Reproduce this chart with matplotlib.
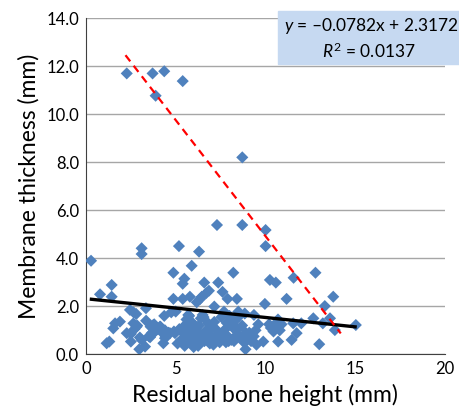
import numpy as np
import matplotlib
matplotlib.use("Agg")
import matplotlib.pyplot as plt
from matplotlib.patches import Rectangle

# residual bone height (mm) vs membrane thickness (mm)
bone_height = [
    2.27, 3.71, 4.36, 5.39, 3.88, 8.71, 7.30, 8.71, 10.01, 10.01,
    5.18, 3.10, 3.10, 6.30, 0.28, 5.89, 4.87, 8.21, 12.79, 11.57,
    5.48, 5.39, 7.37, 6.59, 10.25, 10.58, 1.43, 0.78, 1.43, 13.78,
    7.61, 6.45, 6.70, 6.85, 6.35, 5.79, 4.87, 5.39, 7.89, 8.41,
    11.18, 9.97, 13.31, 6.17, 3.34, 2.45, 2.65, 2.80, 5.00, 5.70,
    7.15, 6.50, 7.69, 8.49, 8.85, 9.36, 12.67, 13.60, 13.20, 13.87,
    15.04, 12.00, 11.55, 11.74, 11.46, 13.00, 10.71, 9.88, 8.89, 2.97,
    3.29, 1.15, 1.30, 1.52, 1.62, 1.89, 2.27, 2.50, 2.82, 2.64,
    3.10, 3.57, 3.66, 3.75, 4.12, 4.31, 4.40, 4.36, 4.68, 4.96,
    5.10, 5.30, 5.40, 5.50, 5.60, 5.20, 5.50, 5.70,
    5.80, 5.90, 5.95, 5.75, 6.00, 6.05, 5.85, 5.65,
    6.10, 6.20, 6.30, 6.35, 6.40, 6.25, 6.45, 6.15,
    6.60, 6.70, 6.80, 6.90, 6.95, 6.55, 6.75, 7.00,
    7.10, 7.20, 7.30, 7.40, 7.45, 7.15, 7.35,
    7.60, 7.70, 7.80, 7.85, 7.90, 7.55, 7.95,
    8.10, 8.20, 8.30, 8.40, 8.00, 8.25, 8.45,
    8.60, 8.70, 8.80, 8.90, 8.55, 9.00,
    9.10, 9.20, 9.35, 9.50, 9.60, 9.45,
    10.30, 10.45, 10.60, 10.80, 10.90, 10.20, 10.70,
    2.50, 2.70, 2.85, 3.00, 3.35, 3.60, 3.80, 4.00, 4.15, 4.25,
    4.45, 4.60, 4.40, 3.85, 4.75, 4.90, 3.50,
]
membrane = [
    11.71, 11.71, 11.80, 11.39, 10.78, 8.21, 5.39, 5.39, 5.18, 4.51,
    4.51, 4.42, 4.18, 4.28, 3.90, 3.69, 3.40, 3.40, 3.40, 3.19,
    3.15, 2.94, 2.99, 2.99, 3.10, 2.99, 2.89, 2.50, 2.40, 2.40,
    2.60, 2.40, 2.55, 2.65, 2.30, 2.40, 2.31, 2.31, 2.31, 2.31,
    2.31, 2.10, 2.01, 2.17, 1.92, 1.85, 1.75, 1.68, 1.78, 1.64,
    1.99, 1.64, 1.78, 1.78, 1.70, 1.64, 1.50, 1.50, 1.29, 1.01,
    1.22, 1.29, 1.29, 0.88, 0.60, 0.42, 0.53, 0.53, 0.21, 0.21,
    0.32, 0.46, 0.53, 1.08, 1.29, 1.36, 0.88, 0.53, 1.15, 1.29,
    0.60, 0.71, 0.88, 1.22, 1.15, 0.46, 0.67, 1.60, 0.88, 0.88,
    0.45, 0.60, 0.90, 1.20, 1.45, 1.05, 0.35, 0.75,
    0.50, 1.00, 1.30, 1.60, 0.30, 0.70, 0.85, 1.10,
    0.45, 0.90, 1.20, 0.60, 1.50, 0.35, 0.80, 1.10,
    0.55, 1.00, 1.30, 0.45, 0.80, 1.55, 0.70, 1.15,
    0.40, 0.65, 1.00, 0.80, 0.50, 1.35, 0.60,
    0.70, 1.00, 0.50, 1.30, 0.75, 1.55, 0.55,
    0.60, 1.10, 1.40, 0.80, 1.60, 0.55, 1.05,
    0.70, 1.20, 0.50, 0.90, 1.60, 0.60,
    0.90, 0.55, 0.75, 0.40, 1.25, 1.00,
    1.10, 0.95, 1.30, 1.00, 1.25, 1.25, 1.45,
    0.85, 1.05, 1.20, 0.70, 1.40, 1.15, 1.25, 1.05, 1.15, 0.90,
    0.75, 0.90, 1.00, 0.95, 1.75, 0.95, 0.75,
]

# linear trend (Excel) and hand-drawn red guide line
slope, intercept = -0.0782, 2.3172
trend_x = [0.3, 15.0]
guide_x = [2.2, 14.2]
guide_y = [12.47, 0.87]

x_ticks = [0, 5, 10, 15, 20]
y_ticks = [0, 2, 4, 6, 8, 10, 12, 14]

plt.rcParams['font.family'] = ['Lato', 'DejaVu Sans']
plt.rcParams['mathtext.fontset'] = 'custom'
plt.rcParams['mathtext.rm'] = 'Lato'
plt.rcParams['mathtext.it'] = 'Lato:italic'

fig = plt.figure(figsize=(4.6, 4.11), dpi=100)
ax = fig.add_axes([0.187, 0.138, 0.780, 0.817])

ax.scatter(bone_height, membrane, marker='D', s=38, color='#4f81bd',
           edgecolors='none', zorder=3)
tx = np.array(trend_x)
ax.plot(tx, slope * tx + intercept, color='black', lw=2.4, zorder=4)
ax.plot(guide_x, guide_y, color='red', lw=1.6, ls=(0, (3.5, 2.5)), zorder=5)

ax.set_xlim(0, 20)
ax.set_ylim(0, 14)
ax.set_xticks(x_ticks)
ax.set_yticks(y_ticks)
ax.set_yticklabels([f"{v:.1f}" for v in y_ticks])
ax.tick_params(length=0, labelsize=12, pad=5)
ax.yaxis.grid(True, color='#a6a6a6', lw=1)
ax.set_axisbelow(True)
for s in ['top', 'right']:
    ax.spines[s].set_visible(False)
ax.spines['left'].set_color('#404040')
ax.spines['bottom'].set_color('#404040')

ax.set_xlabel('Residual bone height (mm)', fontsize=16.5, labelpad=5)
ax.set_ylabel('Membrane thickness (mm)', fontsize=16.5, labelpad=5)

# equation box, runs off the right edge like the original
fig.patches.append(Rectangle((278 / 460, 1 - 64 / 411), 0.5, 53 / 411,
                             transform=fig.transFigure, color='#c6d9f1',
                             zorder=0))
fig.text(371 / 460, 1 - 26 / 411, '$y$ = \u20130.0782x + 2.3172',
         ha='center', va='center', fontsize=12.5)
fig.text(369 / 460, 1 - 51 / 411, '$R^2$ = 0.0137',
         ha='center', va='center', fontsize=12.5)

fig.savefig('out.png', dpi=100)
